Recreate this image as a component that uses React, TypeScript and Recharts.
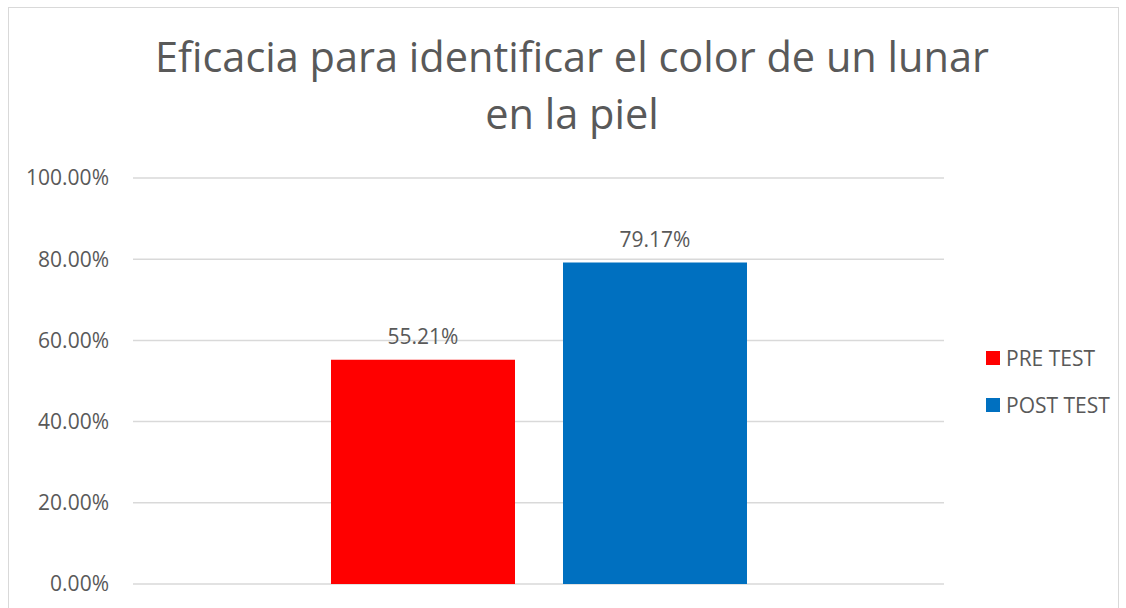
import React from 'react';
import { BarChart, Bar, XAxis, YAxis, CartesianGrid, LabelList } from 'recharts';

const categories = ['Eficacia'];
const preTest = [55.21];
const postTest = [79.17];
const yTicks = [0, 20, 40, 60, 80, 100];
const seriesNames = ['PRE TEST', 'POST TEST'];
const seriesColors = ['#FF0000', '#0070C0'];

const data = categories.map((c, i) => ({ name: c, pre: preTest[i], post: postTest[i] }));

const FONT = "'Open Sans', sans-serif";
const TEXT = '#595959';

export default function App() {
  return (
    <div style={{ position: 'absolute', left: 0, top: 0, width: 1126, height: 608, overflow: 'hidden', background: '#fff' }}>
      <div style={{ position: 'absolute', left: 8, top: 7, width: 1111, height: 620, border: '1px solid #D9D9D9', boxSizing: 'border-box' }} />
      <div
        style={{
          position: 'absolute',
          left: 72,
          width: 1000,
          top: 28,
          textAlign: 'center',
          fontFamily: FONT,
          fontSize: 41.5,
          lineHeight: '57px',
          color: TEXT,
          whiteSpace: 'nowrap',
        }}
      >
        Eficacia para identificar el color de un lunar
        <br />
        en la piel
      </div>
      <div style={{ position: 'absolute', left: 0, top: 0 }}>
        <BarChart
          width={1126}
          height={608}
          data={data}
          margin={{ top: 178, right: 182, bottom: 24, left: 0 }}
          barCategoryGap={198}
          barGap={48}
        >
          <CartesianGrid vertical={false} stroke="#D9D9D9" strokeWidth={1.5} />
          <XAxis dataKey="name" hide />
          <YAxis
            width={133}
            domain={[0, 100]}
            ticks={yTicks}
            axisLine={false}
            tickLine={false}
            tickMargin={18}
            tick={{ fill: TEXT, fontSize: 21, fontFamily: FONT }}
            tickFormatter={(v: number) => v.toFixed(2) + '%'}
          />
          <Bar dataKey="pre" name={seriesNames[0]} fill={seriesColors[0]} isAnimationActive={false}>
            <LabelList
              dataKey="pre"
              position="top"
              offset={16}
              formatter={(v: number) => v.toFixed(2) + '%'}
              style={{ fill: TEXT, fontSize: 21, fontFamily: FONT }}
            />
          </Bar>
          <Bar dataKey="post" name={seriesNames[1]} fill={seriesColors[1]} isAnimationActive={false}>
            <LabelList
              dataKey="post"
              position="top"
              offset={16}
              formatter={(v: number) => v.toFixed(2) + '%'}
              style={{ fill: TEXT, fontSize: 21, fontFamily: FONT }}
            />
          </Bar>
        </BarChart>
      </div>
      <div style={{ position: 'absolute', left: 986, top: 334, fontFamily: FONT, fontSize: 21, color: TEXT }}>
        {seriesNames.map((n, i) => (
          <div key={n} style={{ display: 'flex', alignItems: 'center', height: 47 }}>
            <div style={{ width: 14, height: 14, background: seriesColors[i], marginRight: 6 }} />
            <span>{n}</span>
          </div>
        ))}
      </div>
    </div>
  );
}
